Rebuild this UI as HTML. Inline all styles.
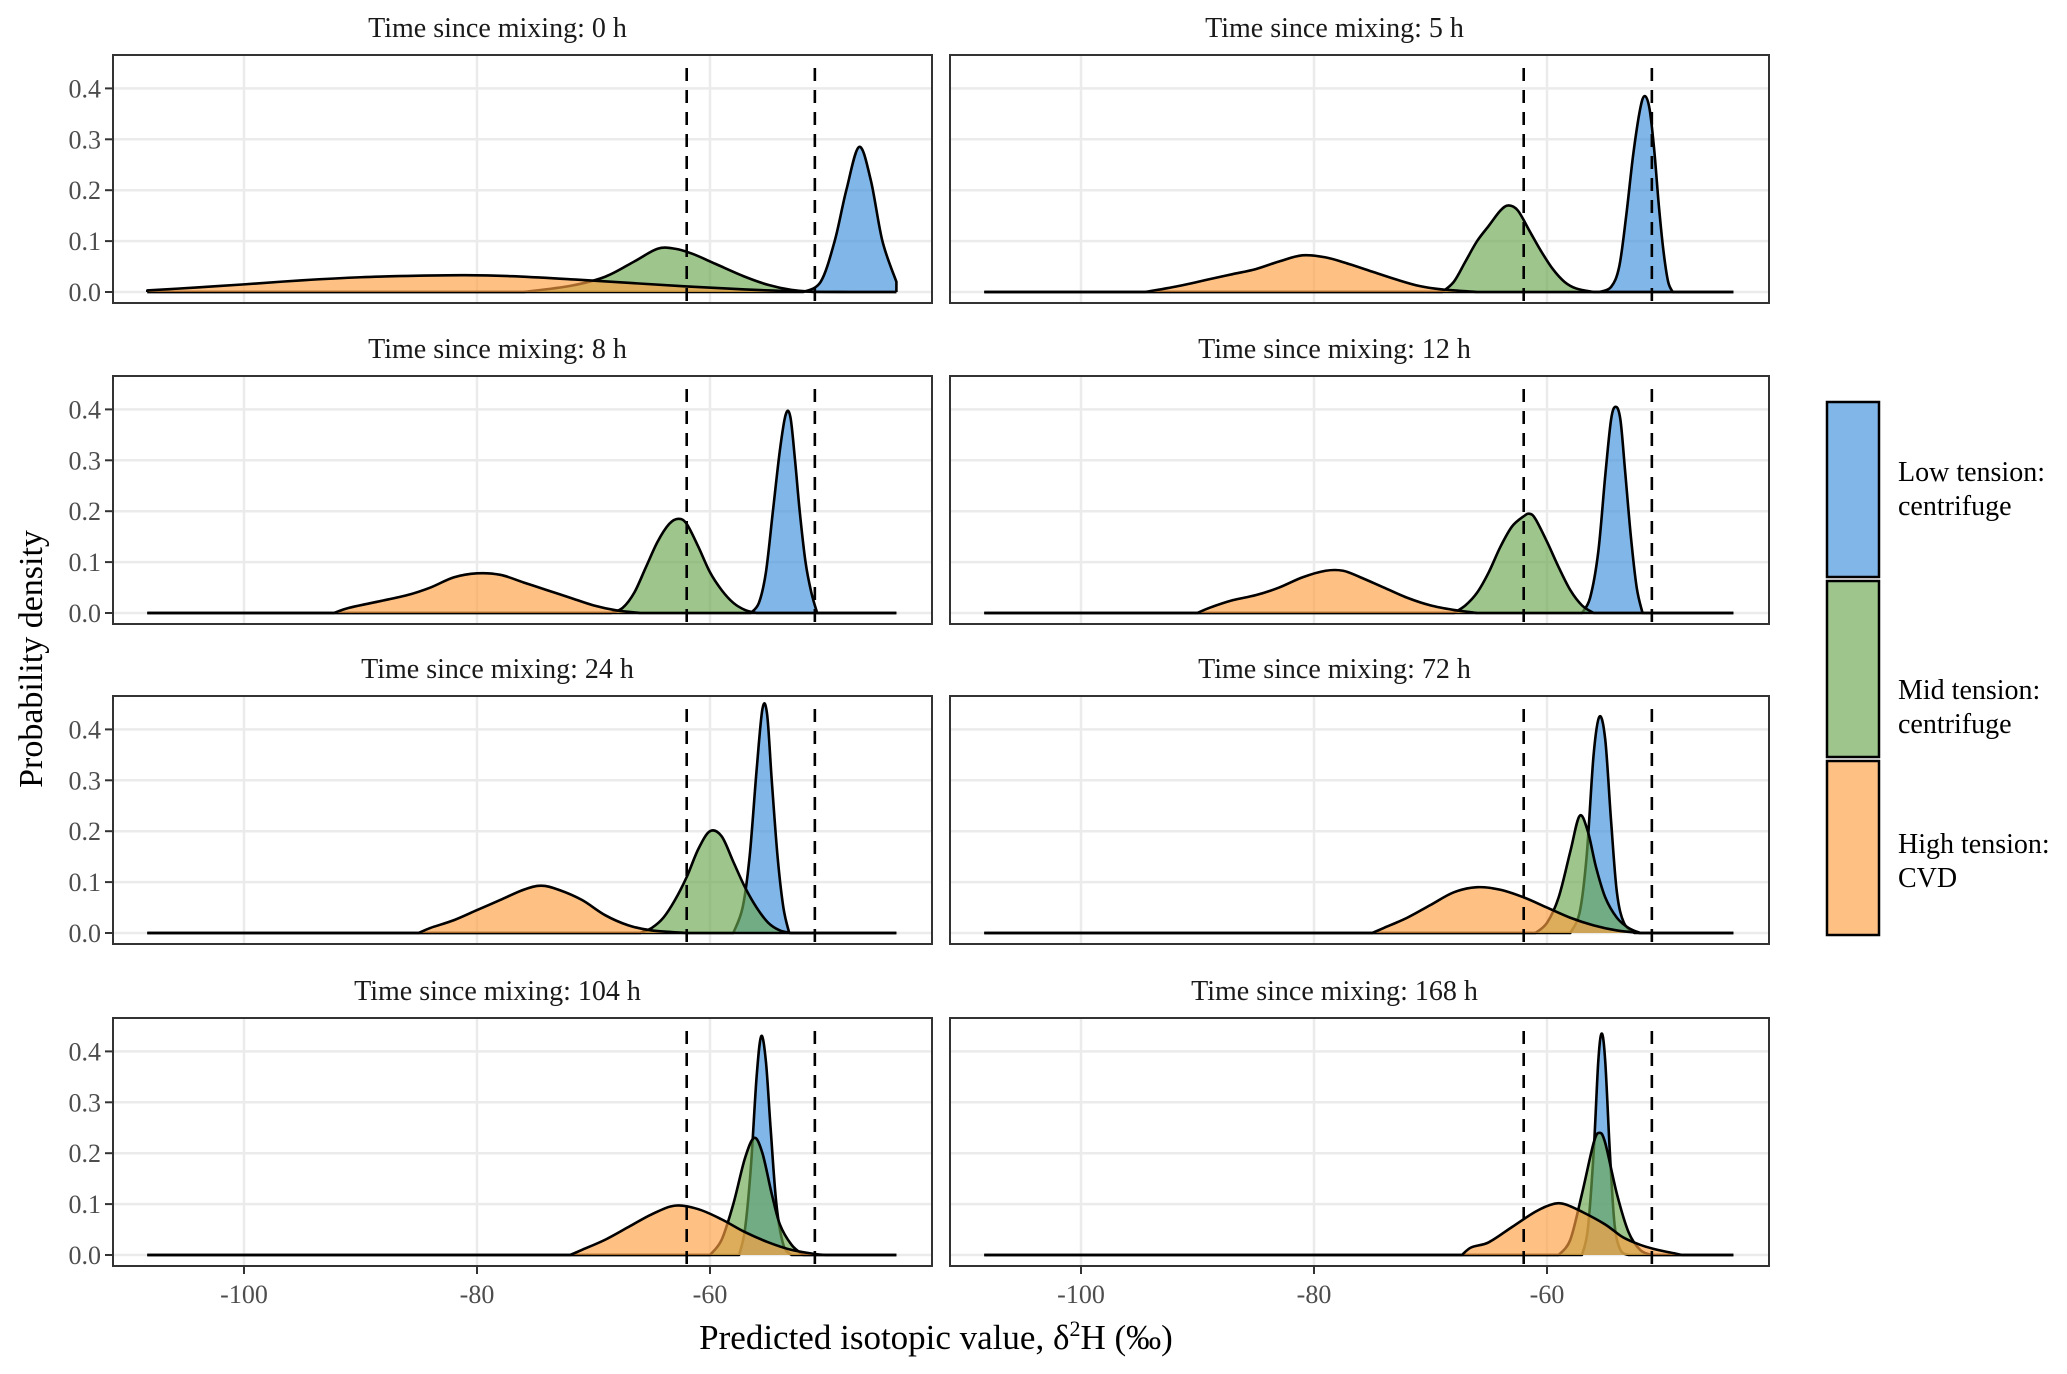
<!DOCTYPE html>
<html><head><meta charset="utf-8">
<style>
html,body{margin:0;padding:0;background:#fff;}
svg{display:block;font-family:"Liberation Serif",serif;}
</style></head>
<body>
<svg id="chart" width="2067" height="1374" viewBox="0 0 2067 1374" xmlns="http://www.w3.org/2000/svg">
<rect width="2067" height="1374" fill="#fff"/>
<g id="panels"></g>
<text x="0" y="0" transform="translate(42,659) rotate(-90)" text-anchor="middle" font-size="34" fill="#000">Probability density</text>
<text x="936" y="1349" text-anchor="middle" font-size="35" fill="#000">Predicted isotopic value, δ<tspan font-size="22" dy="-13">2</tspan><tspan dy="13">H (‰)</tspan></text>
<g>
  <rect x="1827" y="402" width="52" height="175" fill="#3D8FDB" fill-opacity="0.65" stroke="#000" stroke-width="2.5"/>
  <rect x="1827" y="581" width="52" height="176" fill="#6AA84F" fill-opacity="0.65" stroke="#000" stroke-width="2.5"/>
  <rect x="1827" y="761" width="52" height="174" fill="#FFA040" fill-opacity="0.65" stroke="#000" stroke-width="2.5"/>
  <text x="1898" y="481" font-size="28">Low tension:</text>
  <text x="1898" y="515" font-size="28">centrifuge</text>
  <text x="1898" y="699" font-size="28">Mid tension:</text>
  <text x="1898" y="733" font-size="28">centrifuge</text>
  <text x="1898" y="853" font-size="28">High tension:</text>
  <text x="1898" y="887" font-size="28">CVD</text>
</g>
</svg>
<script>
const panelTitles = ["0 h","5 h","8 h","12 h","24 h","72 h","104 h","168 h"];
const xTicks = [-100, -80, -60];
const yTicks = [0, 0.1, 0.2, 0.3, 0.4];
const yTickLabels = ["0.0","0.1","0.2","0.3","0.4"];
const dashedLines = [-62, -51];
const xDomainStart = -108.3;
const xDomainEnd = -44;

const low0 = [[-52,0],[-50.5,0.02],[-49.3,0.1],[-48.3,0.2],[-47.2,0.285],[-46.2,0.22],[-45.2,0.1],[-44,0.02]];
const mid0 = [[-76,0],[-72,0.012],[-69,0.03],[-66.5,0.06],[-64.5,0.085],[-63,0.085],[-61.5,0.075],[-59.5,0.055],[-57,0.03],[-55,0.014],[-53,0.004],[-51,0]];
const high0 = [[-108.3,0.003],[-104,0.009],[-100,0.015],[-95,0.023],[-90,0.029],[-85,0.032],[-81,0.033],[-77,0.031],[-72,0.025],[-67,0.018],[-62,0.011],[-57,0.005],[-52,0.001],[-48,0]];

const low5 = [[-55.5,0],[-54.5,0.01],[-53.8,0.05],[-53.2,0.15],[-52.6,0.27],[-52,0.36],[-51.6,0.385],[-51.2,0.36],[-50.8,0.28],[-50.4,0.17],[-50,0.08],[-49.6,0.02],[-49.2,0]];
const mid5 = [[-69,0],[-68,0.02],[-67,0.06],[-66,0.1],[-65,0.13],[-64,0.16],[-63.3,0.17],[-62.5,0.16],[-61.5,0.12],[-60.5,0.08],[-59.5,0.045],[-58.5,0.02],[-57.5,0.007],[-56,0]];
const high5 = [[-94.5,0],[-92,0.01],[-89,0.025],[-87,0.035],[-85,0.045],[-83,0.06],[-81,0.072],[-79,0.068],[-77,0.055],[-75,0.04],[-73,0.025],[-71,0.012],[-69,0.005],[-66,0]];

const low8 = [[-56.5,0],[-55.8,0.02],[-55.2,0.08],[-54.6,0.2],[-54,0.32],[-53.5,0.39],[-53.1,0.385],[-52.7,0.3],[-52.3,0.2],[-51.8,0.1],[-51.3,0.04],[-50.8,0]];
const mid8 = [[-68.5,0],[-67.5,0.01],[-66.5,0.04],[-65.5,0.09],[-64.5,0.14],[-63.5,0.175],[-62.7,0.185],[-62,0.175],[-61,0.13],[-60,0.08],[-59,0.045],[-58,0.02],[-57,0.006],[-56,0]];
const high8 = [[-92.3,0],[-91,0.01],[-89,0.02],[-86,0.035],[-84,0.05],[-82,0.07],[-80,0.078],[-78,0.075],[-76,0.06],[-74,0.045],[-72,0.03],[-70,0.015],[-68,0.005],[-66,0]];

const low12 = [[-57,0],[-56.3,0.03],[-55.6,0.12],[-55,0.27],[-54.5,0.38],[-54.1,0.405],[-53.7,0.38],[-53.3,0.28],[-52.8,0.15],[-52.3,0.05],[-51.8,0]];
const mid12 = [[-68,0],[-67,0.015],[-66,0.04],[-65,0.08],[-64,0.13],[-63,0.17],[-62,0.19],[-61.5,0.195],[-61,0.185],[-60,0.14],[-59,0.09],[-58,0.045],[-57,0.015],[-56,0]];
const high12 = [[-90,0],[-89,0.01],[-87,0.025],[-85,0.035],[-83,0.05],[-81,0.07],[-79,0.083],[-77.5,0.083],[-76,0.07],[-74,0.05],[-72,0.03],[-70,0.015],[-68,0.006],[-66,0]];

const low24 = [[-58,0],[-57.2,0.05],[-56.6,0.15],[-56,0.32],[-55.5,0.44],[-55.1,0.43],[-54.7,0.3],[-54.2,0.15],[-53.7,0.05],[-53.2,0]];
const mid24 = [[-66,0],[-65,0.01],[-64,0.03],[-63,0.065],[-62,0.11],[-61,0.165],[-60,0.2],[-59,0.19],[-58,0.14],[-57,0.09],[-56,0.05],[-55,0.02],[-54,0.005],[-53,0]];
const high24 = [[-85,0],[-84,0.01],[-82,0.025],[-80,0.045],[-78,0.065],[-76,0.085],[-74.5,0.093],[-73,0.085],[-71,0.065],[-69,0.035],[-67,0.015],[-65,0.005],[-62,0]];

const low72 = [[-58,0],[-57.2,0.04],[-56.6,0.15],[-56,0.35],[-55.5,0.425],[-55,0.38],[-54.5,0.22],[-54,0.08],[-53.4,0.02],[-52.5,0]];
const mid72 = [[-61,0],[-60,0.02],[-59,0.07],[-58,0.16],[-57.2,0.23],[-56.5,0.2],[-55.8,0.13],[-55,0.07],[-54,0.03],[-53,0.01],[-52,0]];
const high72 = [[-75,0],[-74,0.01],[-72,0.03],[-70,0.055],[-68,0.08],[-66,0.09],[-64,0.085],[-62,0.07],[-60,0.05],[-58,0.03],[-56,0.015],[-54,0.005],[-52,0]];

const low104 = [[-57.5,0],[-57,0.05],[-56.5,0.17],[-56,0.35],[-55.6,0.43],[-55.2,0.38],[-54.8,0.25],[-54.3,0.1],[-53.7,0.02],[-53,0]];
const mid104 = [[-60,0],[-59,0.03],[-58,0.1],[-57,0.19],[-56.2,0.23],[-55.5,0.2],[-54.7,0.12],[-54,0.06],[-53,0.02],[-52,0]];
const high104 = [[-72,0],[-71,0.01],[-69,0.03],[-67,0.055],[-65,0.08],[-63,0.097],[-61,0.09],[-59,0.07],[-57,0.045],[-55,0.025],[-53,0.01],[-51,0.002],[-50,0]];

const low168 = [[-57,0],[-56.5,0.05],[-56,0.2],[-55.6,0.38],[-55.3,0.435],[-55,0.38],[-54.6,0.2],[-54.2,0.06],[-53.7,0.01],[-53,0]];
const mid168 = [[-59,0],[-58,0.03],[-57,0.12],[-56,0.22],[-55.5,0.24],[-55,0.22],[-54,0.12],[-53,0.045],[-52,0.01],[-51,0]];
const high168 = [[-67.3,0],[-66.5,0.015],[-65,0.025],[-63,0.055],[-61,0.085],[-59.5,0.1],[-58.5,0.1],[-57,0.085],[-55,0.06],[-53.5,0.035],[-52,0.02],[-50.5,0.01],[-49,0.003],[-48.4,0]];

const lowSeries = [low0, low5, low8, low12, low24, low72, low104, low168];
const midSeries = [mid0, mid5, mid8, mid12, mid24, mid72, mid104, mid168];
const highSeries = [high0, high5, high8, high12, high24, high72, high104, high168];

const NS = "http://www.w3.org/2000/svg";
const colLeft = [113, 950], rowTop = [55, 376, 696, 1018];
const PW = 819, PH = 248;
function xs(col, v){ return colLeft[col] + 131 + (v + 100) * 11.65; }
function ys(row, d){ return rowTop[row] + 237 - d * 509; }
function mk(tag, attrs, parent){ const e = document.createElementNS(NS, tag); for (const k in attrs) e.setAttribute(k, attrs[k]); parent.appendChild(e); return e; }
function smooth(pts){
  let d = "M" + pts[0][0].toFixed(2) + "," + pts[0][1].toFixed(2);
  for (let i = 0; i < pts.length - 1; i++){
    const p0 = pts[Math.max(0, i-1)], p1 = pts[i], p2 = pts[i+1], p3 = pts[Math.min(pts.length-1, i+2)];
    const c1x = p1[0] + (p2[0]-p0[0])/6, c1y = Math.min(p1[1] + (p2[1]-p0[1])/6, Math.max(p1[1],p2[1]));
    const c2x = p2[0] - (p3[0]-p1[0])/6, c2y = Math.min(p2[1] - (p3[1]-p1[1])/6, Math.max(p1[1],p2[1]));
    d += " C" + c1x.toFixed(2) + "," + c1y.toFixed(2) + " " + c2x.toFixed(2) + "," + c2y.toFixed(2) + " " + p2[0].toFixed(2) + "," + p2[1].toFixed(2);
  }
  return d;
}
const root = document.getElementById("panels");
const groupFill = ["#3D8FDB", "#6AA84F", "#FFA040"];
const groupName = ["low-tension", "mid-tension", "high-tension"];

for (let p = 0; p < 8; p++){
  const col = p % 2, row = Math.floor(p / 2);
  const L = colLeft[col], T = rowTop[row];
  const g = mk("g", {}, root);
  
  
  const title = mk("text", {x: L + PW/2 - 25, y: T - 18, "text-anchor": "middle", "font-size": 28, fill: "#1a1a1a"}, g);
  
  
  title.textContent = "Time since mixing: " + panelTitles[p];
  const clipId = "clip" + p;
  const cp = mk("clipPath", {id: clipId}, g);
  mk("rect", {x: L, y: T, width: PW, height: PH}, cp);
  const inner = mk("g", {"clip-path": "url(#" + clipId + ")"}, g);
  for (const t of yTicks){
    const gl = mk("line", {x1: L, x2: L + PW, y1: ys(row, t), y2: ys(row, t), stroke: "#EBEBEB", "stroke-width": 2.5}, inner);
    
    
  }
  for (const t of xTicks){
    const gl = mk("line", {x1: xs(col, t), x2: xs(col, t), y1: T, y2: T + PH, stroke: "#EBEBEB", "stroke-width": 2.5}, inner);
    
    
  }
  const sets = [lowSeries[p], midSeries[p], highSeries[p]];
  for (let s = 0; s < 3; s++){
    const pts = sets[s].map(q => [xs(col, q[0]), ys(row, q[1])]);
    const base = ys(row, 0);
    const curve = smooth(pts);
    const area = mk("path", {d: curve + " L" + pts[pts.length-1][0] + "," + base + " L" + pts[0][0] + "," + base + " Z", fill: groupFill[s], "fill-opacity": 0.65, stroke: "none"}, inner);
    
    
    const full = "M" + xs(col, xDomainStart) + "," + base + " L" + pts[0][0] + "," + base + " " + curve.replace(/^M/, "L") + " L" + xs(col, xDomainEnd) + "," + base;
    const line = mk("path", {d: full, fill: "none", stroke: "#000", "stroke-width": 2.6, "stroke-linejoin": "round"}, inner);
    
    
  }
  for (const v of dashedLines){
    const dl = mk("line", {x1: xs(col, v), x2: xs(col, v), y1: ys(row, 0.44), y2: T + PH, stroke: "#000", "stroke-width": 2.6, "stroke-dasharray": "13 9"}, g);
    
    
  }
  const border = mk("rect", {x: L, y: T, width: PW, height: PH, fill: "none", stroke: "#333", "stroke-width": 2}, g);
  
  
  if (col === 0){
    for (let i = 0; i < yTicks.length; i++){
      const y = ys(row, yTicks[i]);
      const tk = mk("line", {x1: L - 8, x2: L, y1: y, y2: y, stroke: "#333", "stroke-width": 2}, g);
      
      
      const lb = mk("text", {x: L - 12, y: y + 9, "text-anchor": "end", "font-size": 26, fill: "#4d4d4d"}, g);
      
      
      lb.textContent = yTickLabels[i];
    }
  }
  if (row === 3){
    for (const t of xTicks){
      const x = xs(col, t);
      const tk = mk("line", {x1: x, x2: x, y1: T + PH, y2: T + PH + 8, stroke: "#333", "stroke-width": 2}, g);
      
      
      const lb = mk("text", {x: x, y: T + PH + 37, "text-anchor": "middle", "font-size": 26, fill: "#4d4d4d"}, g);
      
      
      lb.textContent = String(t);
    }
  }
}
</script>
</body></html>
